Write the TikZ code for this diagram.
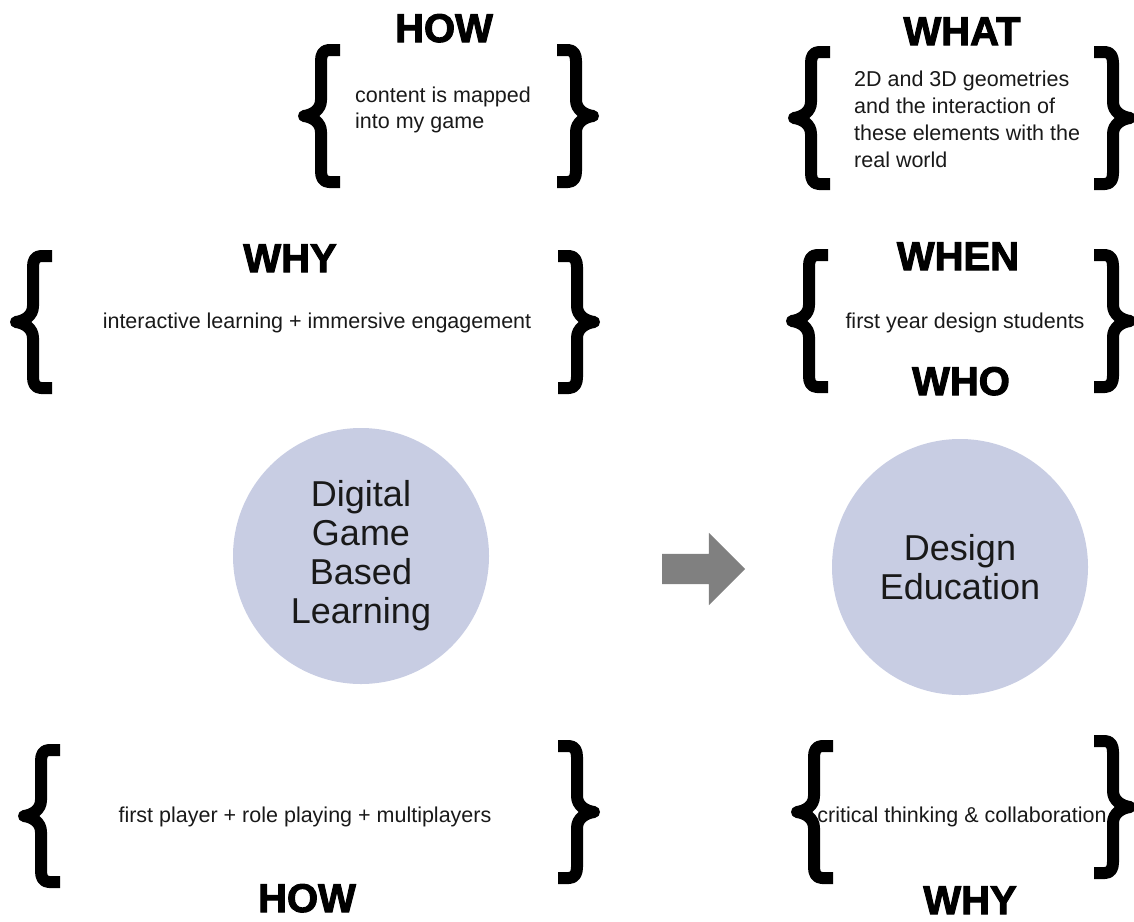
\documentclass[tikz,border=0pt]{standalone}
\usepackage{fontspec}
\setmainfont{Liberation Sans}
\newfontfamily\heavy{Liberation Sans}[FakeBold=2.5]
\usetikzlibrary{shapes.arrows}

\definecolor{lavender}{RGB}{200,205,227}
\definecolor{arrowgray}{RGB}{128,128,128}

\tikzset{
  title/.style={font=\heavy\bfseries\fontsize{40}{40}\selectfont, anchor=base, inner sep=0pt},
  body/.style={font=\fontsize{21.5}{26}\selectfont, align=left, inner sep=0pt, text=black!90},
  topic/.style={circle, fill=lavender, minimum size=256pt, inner sep=0pt, align=center,
    font=\fontsize{36}{39}\selectfont, text=black!90},
  % thick curly bracket, origin at its tip
  curly/.pic={
    \draw[line width=12pt, line join=round]
      (40,-66) -- (29,-66) .. controls (23,-66) and (21,-61) .. (21,-55)
      -- (21,-16) .. controls (21,-6) and (12,-1) .. (4,0)
      .. controls (12,1) and (21,6) .. (21,16)
      -- (21,55) .. controls (21,61) and (23,66) .. (29,66) -- (40,66);
  }
}

\begin{document}
\begin{tikzpicture}[x=1pt, y=-1pt]
\useasboundingbox (0,0) rectangle (1134,921);

% How: content
\node[title] (how1) at (444,42) {HOW};
\pic at (300,116) {curly};
\pic[xscale=-1] at (597,116) {curly};
\node[body, anchor=west] (content) at (355,110) {content is mapped\\into my game};

% What: geometries
\node[title] (what) at (962,45) {WHAT};
\pic at (790,118) {curly};
\pic[xscale=-1] at (1134,118) {curly};
\node[body, anchor=west, font=\fontsize{21.5}{27}\selectfont] (geometry) at (854,119)
  {2D and 3D geometries\\and the interaction of\\these elements with the\\real world};

% Why: learning and engagement
\node[title] (why1) at (290,272) {WHY};
\pic at (12,322) {curly};
\pic[xscale=-1] at (598,322) {curly};
\node[body, anchor=base] (learning) at (317,328) {interactive learning + immersive engagement};

% When / Who: students
\node[title] (when) at (958,270) {WHEN};
\node[title] (who) at (961,395) {WHO};
\pic at (788,321) {curly};
\pic[xscale=-1] at (1134,321) {curly};
\node[body, anchor=base] (students) at (965,328) {first year design students};

% The two topics and the arrow between them
\node[topic] (dgbl) at (361,556) {Digital\\Game\\Based\\Learning};
\node[topic] (design) at (960,567) {Design\\Education};
\node[single arrow, fill=arrowgray, minimum height=83pt, single arrow head extend=21pt,
  inner xsep=0pt, inner ysep=15pt, single arrow head indent=0pt] (flow) at (696,569) {};

% How: play modes
\node[title] (how2) at (307,912) {HOW};
\pic at (20,816) {curly};
\pic[xscale=-1] at (598,812) {curly};
\node[body, anchor=base] (players) at (305,822) {first player + role playing + multiplayers};

% Why: skills
\node[title] (why2) at (970,914) {WHY};
\pic at (793,812) {curly};
\pic[xscale=-1] at (1134,807) {curly};
\node[body, anchor=base] (skills) at (962,822) {critical thinking \& collaboration};

\end{tikzpicture}
\end{document}
